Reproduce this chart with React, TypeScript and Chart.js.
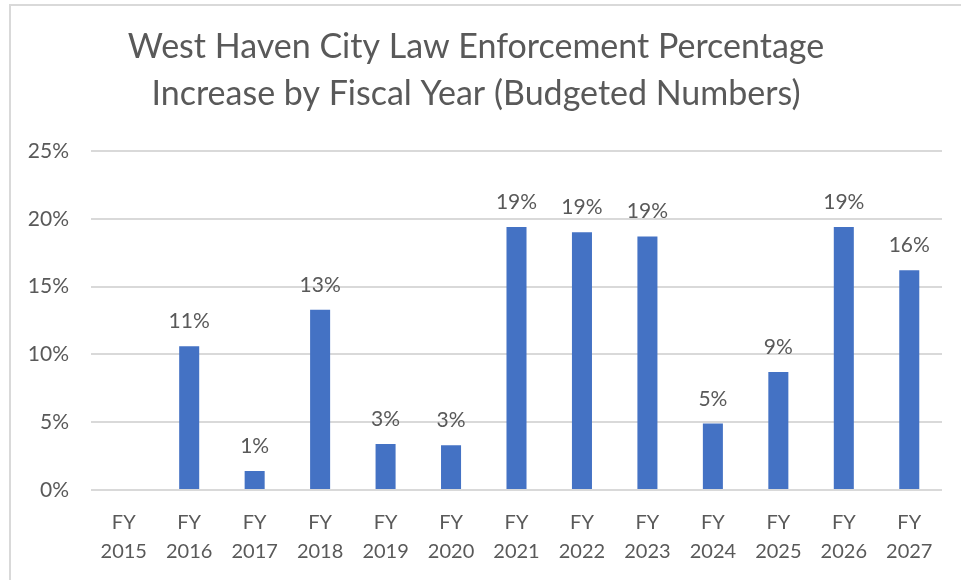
import React, { useEffect, useRef } from "react";
import { Chart, registerables } from "chart.js";

Chart.register(...registerables);

const titleLines = ["West Haven City Law Enforcement Percentage", "Increase by Fiscal Year (Budgeted Numbers)"];
const categories = [
  ["FY", "2015"], ["FY", "2016"], ["FY", "2017"], ["FY", "2018"], ["FY", "2019"],
  ["FY", "2020"], ["FY", "2021"], ["FY", "2022"], ["FY", "2023"], ["FY", "2024"],
  ["FY", "2025"], ["FY", "2026"], ["FY", "2027"],
];
const increasePct: (number | null)[] = [null, 10.6, 1.4, 13.3, 3.4, 3.3, 19.4, 19.0, 18.7, 4.9, 8.7, 19.4, 16.2];
const yTicks = [0, 5, 10, 15, 20, 25];

const FONT = "Lato, 'Open Sans', sans-serif";
const TEXT = "#595959";

const labelPlugin = {
  id: "barLabels",
  afterDatasetsDraw(chart: any) {
    const ctx = chart.ctx;
    const meta = chart.getDatasetMeta(0);
    ctx.save();
    ctx.font = `21px ${FONT}`;
    ctx.fillStyle = TEXT;
    ctx.textAlign = "center";
    ctx.textBaseline = "alphabetic";
    meta.data.forEach((el: any, i: number) => {
      const v = increasePct[i];
      if (v === null || v === undefined) return;
      ctx.fillText(`${Math.round(v)}%`, el.x, el.y - 18);
    });
    ctx.restore();
  },
};

export default function App() {
  const ref = useRef<HTMLCanvasElement>(null);
  useEffect(() => {
    document.body.style.margin = "0";
    const chart = new Chart(ref.current!, {
      type: "bar",
      data: {
        labels: categories,
        datasets: [
          {
            data: increasePct,
            backgroundColor: "#4472C4",
            barPercentage: 0.306,
            categoryPercentage: 1,
          },
        ],
      },
      options: {
        animation: false,
        responsive: false,
        layout: { padding: { left: 10, right: 19, top: 0, bottom: 13 } },
        plugins: {
          legend: { display: false },
          tooltip: { enabled: false },
          title: {
            display: true,
            text: titleLines,
            color: TEXT,
            font: { family: FONT, size: 34, weight: "normal", lineHeight: "47px" },
            padding: { top: 24, bottom: 33 },
          },
        },
        scales: {
          x: {
            afterFit(scale: any) {
              scale.height = 77;
            },
            grid: { display: false, drawTicks: false },
            border: { display: false },
            ticks: {
              color: TEXT,
              font: { family: FONT, size: 20, lineHeight: "29px" },
              padding: 18,
              maxRotation: 0,
              autoSkip: false,
            },
          },
          y: {
            min: 0,
            max: 25,
            afterBuildTicks(scale: any) {
              scale.ticks = yTicks.map((v) => ({ value: v }));
            },
            afterFit(scale: any) {
              scale.width = 81;
            },
            grid: { color: "#d9d9d9", lineWidth: 2, drawTicks: false },
            border: { display: false },
            ticks: {
              color: TEXT,
              font: { family: FONT, size: 21 },
              padding: 22,
              callback: (v: any) => `${v}%`,
            },
          },
        },
      },
      plugins: [labelPlugin],
    });
    return () => chart.destroy();
  }, []);
  return (
    <div style={{ position: "absolute", left: 0, top: 0, width: 961, height: 580, background: "#fff" }}>
      <canvas ref={ref} width={961} height={580} style={{ display: "block" }} />
      <div
        style={{
          position: "absolute",
          left: 9,
          top: 4,
          width: 952,
          height: 576,
          borderTop: "2px solid #d9d9d9",
          borderLeft: "2px solid #d9d9d9",
          boxSizing: "border-box",
          pointerEvents: "none",
        }}
      />
    </div>
  );
}
